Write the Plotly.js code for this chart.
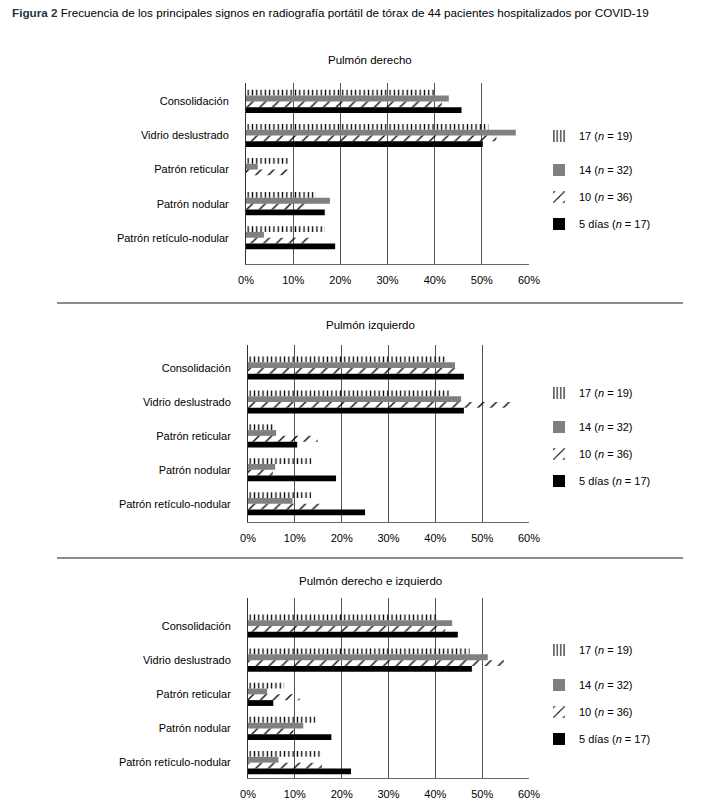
<!DOCTYPE html>
<html>
<head>
<meta charset="utf-8">
<script src="https://cdn.plot.ly/plotly-3.0.1.min.js"></script>
<style>html,body{margin:0;padding:0;background:#fff;}#chart{width:715px;height:804px;}</style>
</head>
<body>
<div id="chart"></div>
<script>
// ---- data ----
const categories = ['Consolidación', 'Vidrio deslustrado', 'Patrón reticular', 'Patrón nodular', 'Patrón retículo-nodular'];
const panelTitles = ['Pulmón derecho', 'Pulmón izquierdo', 'Pulmón derecho e izquierdo'];
const seriesNames = ['17 (<i>n</i> = 19)', '14 (<i>n</i> = 32)', '10 (<i>n</i> = 36)', '5 días (<i>n</i> = 17)'];
const xTickVals = [0, 10, 20, 30, 40, 50, 60];
const xTickText = ['0%', '10%', '20%', '30%', '40%', '50%', '60%'];

// Pulmón derecho
const der17 = [40.0, 51.4, 9.2, 14.8, 16.7];
const der14 = [43.0, 57.2, 2.5, 17.8, 3.8];
const der10 = [41.5, 53.1, 9.2, 13.4, 13.6];
const der5  = [45.7, 50.2, 0.0, 16.7, 18.9];
// Pulmón izquierdo
const izq17 = [42.4, 43.3, 5.7, 13.6, 13.5];
const izq14 = [44.2, 45.5, 6.0, 5.8, 9.5];
const izq10 = [44.8, 56.9, 14.9, 5.3, 16.1];
const izq5  = [46.1, 46.1, 10.5, 18.8, 25.0];
// Pulmón derecho e izquierdo
const amb17 = [40.3, 47.3, 7.7, 14.4, 15.6];
const amb14 = [43.6, 51.2, 4.1, 11.8, 6.5];
const amb10 = [42.1, 54.7, 11.0, 9.7, 15.8];
const amb5  = [44.8, 47.8, 5.4, 17.8, 22.0];

const panels = [[der17, der14, der10, der5], [izq17, izq14, izq10, izq5], [amb17, amb14, amb10, amb5]];

// ---- styling / layout (pixel geometry) ----
const W = 715, H = 804;
const FONT = 'Liberation Sans, Arial, sans-serif';
const plotBoxes = [
  {x0: 246, x1: 529, y0: 83, y1: 264, yr: [4.77, -0.54], title: 60, legendY: [136, 170, 197, 224]},
  {x0: 248, x1: 529, y0: 345, y1: 522, yr: [4.54, -0.68], title: 325, legendY: [393, 427, 454, 481]},
  {x0: 248, x1: 529, y0: 598, y1: 778, yr: [4.45, -0.82], title: 581, legendY: [650, 685, 712, 739]}
];
const styles = [
  {color: 'rgba(0,0,0,0)', pattern: {shape: '|', fgcolor: '#000', bgcolor: 'rgba(0,0,0,0)', size: 4.3, solidity: 0.3}},
  {color: '#808080'},
  {color: 'rgba(0,0,0,0)', pattern: {shape: '/', fgcolor: '#000', bgcolor: 'rgba(0,0,0,0)', size: 9, solidity: 0.15}},
  {color: '#000000'}
];

const data = [];
const layout = {
  width: W, height: H,
  margin: {l: 0, r: 0, t: 0, b: 0},
  paper_bgcolor: '#fff', plot_bgcolor: '#fff',
  font: {family: FONT, size: 11, color: '#000'},
  showlegend: true,
  barmode: 'group', bargap: 0.32, bargroupgap: 0,
  annotations: [], shapes: []
};

let legendIdx = 1;
panels.forEach((series, p) => {
  const box = plotBoxes[p];
  const ax = p === 0 ? '' : String(p + 1);
  series.forEach((vals, s) => {
    const lname = legendIdx === 1 ? 'legend' : 'legend' + legendIdx;
    const marker = {color: styles[s].color, line: {width: 0}};
    if (styles[s].pattern) marker.pattern = styles[s].pattern;
    data.push({
      type: 'bar', orientation: 'h',
      x: vals, y: categories,
      name: seriesNames[s],
      marker: marker,
      xaxis: 'x' + ax, yaxis: 'y' + ax,
      legend: lname,
      showlegend: true,
      hoverinfo: 'x+y'
    });
    layout[lname] = {
      visible: true,
      x: 539 / W, xanchor: 'left',
      y: 1 - box.legendY[s] / H, yanchor: 'middle',
      bgcolor: 'rgba(0,0,0,0)', borderwidth: 0,
      font: {family: FONT, size: 11, color: '#000'},
      itemwidth: 30
    };
    legendIdx++;
  });
  layout['xaxis' + ax] = {
    domain: [box.x0 / W, box.x1 / W],
    anchor: 'y' + ax,
    range: [0, 60],
    tickmode: 'array',
    tickvals: xTickVals,
    ticktext: xTickText,
    ticks: '',
    ticklabelstandoff: 6,
    showgrid: true, gridcolor: '#555', gridwidth: 1,
    zeroline: false,
    showline: true, linecolor: '#666', linewidth: 1,
    tickfont: {family: FONT, size: 11, color: '#000'},
    fixedrange: true
  };
  layout['yaxis' + ax] = {
    domain: [1 - box.y1 / H, 1 - box.y0 / H],
    anchor: 'x' + ax,
    type: 'category',
    range: box.yr,
    ticks: '',
    ticklabelstandoff: 14,
    showgrid: false,
    zeroline: false,
    showline: true, linecolor: '#333', linewidth: 1,
    tickfont: {family: FONT, size: 11, color: '#000'},
    fixedrange: true
  };
  layout.annotations.push({
    xref: 'paper', yref: 'paper',
    x: 370 / W, y: 1 - box.title / H,
    xanchor: 'center', yanchor: 'middle',
    text: panelTitles[p], showarrow: false,
    font: {family: FONT, size: 11.5, color: '#000'}
  });
});

// separators between panels
[303, 558].forEach(yy => {
  layout.shapes.push({
    type: 'line', xref: 'paper', yref: 'paper',
    x0: 57 / W, x1: 683 / W, y0: 1 - yy / H, y1: 1 - yy / H,
    line: {color: '#666', width: 1.5}
  });
});

// figure caption
const captionText = '<b style="color:#1d3550">Figura 2</b> Frecuencia de los principales signos en radiografía portátil de tórax de 44 pacientes hospitalizados por COVID-19';
layout.annotations.push({
  xref: 'paper', yref: 'paper',
  x: 10 / W, y: 1 - 12 / H, xanchor: 'left', yanchor: 'middle',
  text: captionText,
  showarrow: false,
  font: {family: FONT, size: 11.7, color: '#000'}
});

Plotly.newPlot('chart', data, layout, {displayModeBar: false, staticPlot: true});
</script>
</body>
</html>
